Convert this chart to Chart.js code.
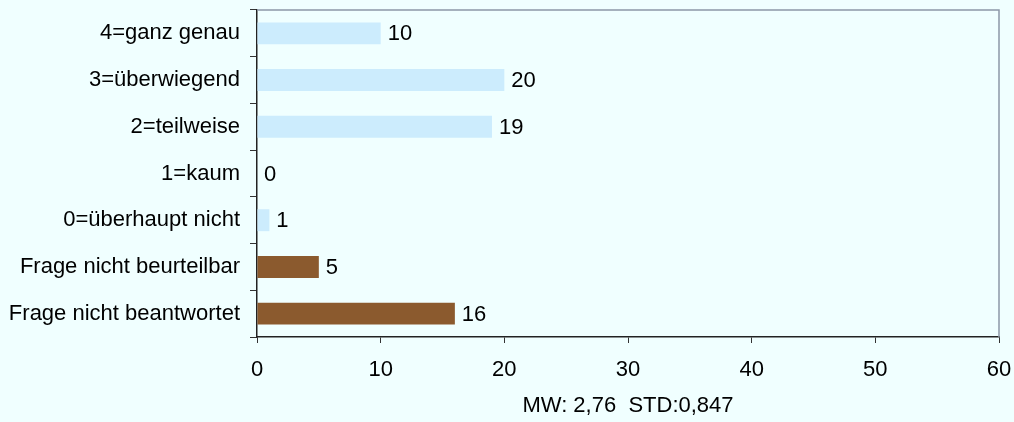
<!DOCTYPE html>
<html lang="de">
<head>
    <meta charset="UTF-8">
    <title>Antwortverteilung</title>
    <script src="https://cdn.jsdelivr.net/npm/chart.js"></script>
    <style>
        body {
            margin: 0;
            background: #f0ffff;
        }
        #chartContainer {
            width: 1014px;
            height: 422px;
            position: relative;
        }
    </style>
</head>
<body>
    <div id="chartContainer">
        <canvas id="answersChart"></canvas>
    </div>

    <script>
        const categories = [
            '4=ganz genau',
            '3=überwiegend',
            '2=teilweise',
            '1=kaum',
            '0=überhaupt nicht',
            'Frage nicht beurteilbar',
            'Frage nicht beantwortet'
        ];
        const counts = [10, 20, 19, 0, 1, 5, 16];
        const barColors = ['#ccecfd', '#ccecfd', '#ccecfd', '#ccecfd', '#ccecfd', '#8b5a2e', '#8b5a2e'];
        const xTicks = [0, 10, 20, 30, 40, 50, 60];
        const summaryText = 'MW: 2,76  STD:0,847';

        const FONT = { family: '"Liberation Sans", Arial, sans-serif', size: 22 };

        // grey frame on top and right of plot area
        const frame = {
            id: 'frame',
            beforeDatasetsDraw(chart) {
                const { ctx, chartArea: a } = chart;
                ctx.save();
                ctx.strokeStyle = '#8c98a8';
                ctx.lineWidth = 1.5;
                ctx.beginPath();
                ctx.moveTo(a.left, a.top);
                ctx.lineTo(a.right, a.top);
                ctx.lineTo(a.right, a.bottom);
                ctx.stroke();
                ctx.restore();
            }
        };

        // value labels at the end of each bar
        const valueLabels = {
            id: 'valueLabels',
            afterDatasetsDraw(chart) {
                const { ctx } = chart;
                const meta = chart.getDatasetMeta(0);
                ctx.save();
                ctx.font = `${FONT.size}px ${FONT.family}`;
                ctx.fillStyle = '#000';
                ctx.textAlign = 'left';
                ctx.textBaseline = 'middle';
                meta.data.forEach((bar, i) => {
                    ctx.fillText(String(counts[i]), bar.x + 7, bar.y + 1);
                });
                ctx.restore();
            }
        };

        const ctx = document.getElementById('answersChart').getContext('2d');
        new Chart(ctx, {
            type: 'bar',
            data: {
                labels: categories,
                datasets: [{
                    data: counts,
                    backgroundColor: barColors,
                    borderWidth: 0,
                    barPercentage: 0.47,
                    categoryPercentage: 1.0
                }]
            },
            options: {
                indexAxis: 'y',
                responsive: true,
                maintainAspectRatio: false,
                animation: false,
                layout: { padding: { top: 10, right: 15, left: 0, bottom: 0 } },
                plugins: {
                    legend: { display: false },
                    tooltip: { enabled: false }
                },
                scales: {
                    x: {
                        min: 0,
                        max: 60,
                        afterBuildTicks: (scale) => {
                            scale.ticks = xTicks.map(v => ({ value: v }));
                        },
                        afterFit: (scale) => {
                            scale.height = 85;
                            scale.paddingLeft = 0;
                            scale.paddingRight = 0;
                        },
                        grid: {
                            drawOnChartArea: false,
                            tickLength: 6,
                            color: '#333'
                        },
                        border: { color: '#222', width: 1.5 },
                        ticks: {
                            color: '#000',
                            font: FONT,
                            padding: 14,
                            maxRotation: 0
                        },
                        title: {
                            display: true,
                            text: summaryText,
                            color: '#000',
                            font: FONT,
                            padding: { top: 0, bottom: 3 }
                        }
                    },
                    y: {
                        afterFit: (scale) => {
                            scale.width = 257;
                            scale.paddingTop = 0;
                            scale.paddingBottom = 0;
                        },
                        grid: {
                            drawOnChartArea: false,
                            tickLength: 7,
                            color: '#333',
                            offset: true
                        },
                        border: { color: '#222', width: 1.5 },
                        ticks: {
                            color: '#000',
                            font: FONT,
                            padding: 10
                        }
                    }
                }
            },
            plugins: [frame, valueLabels]
        });
    </script>
</body>
</html>
